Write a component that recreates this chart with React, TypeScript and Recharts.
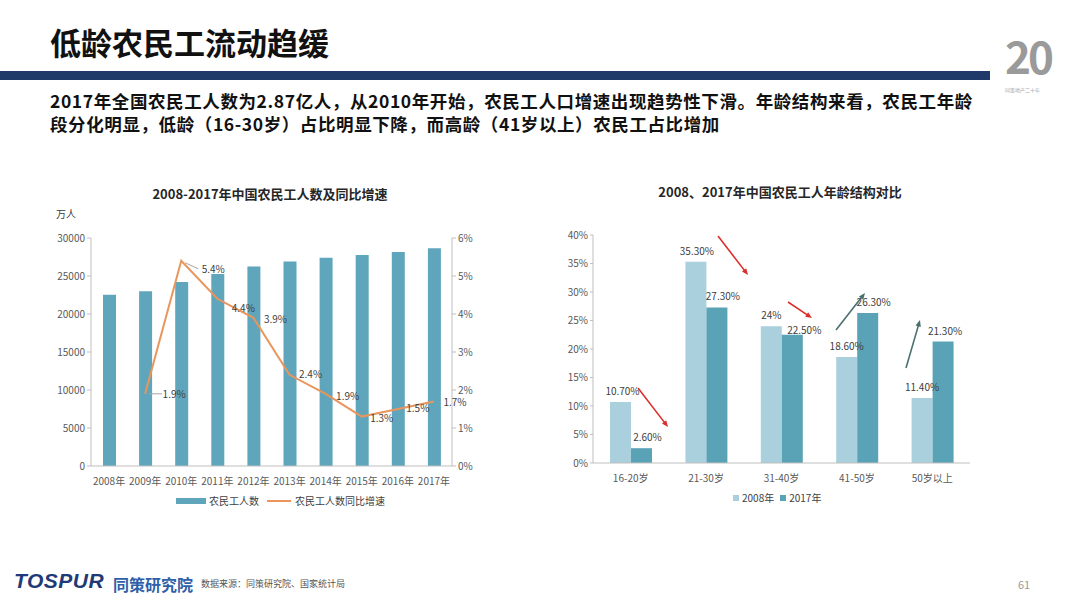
import React from "react";
import { ComposedChart, BarChart, Bar, Line, XAxis, YAxis, LabelList } from "recharts";

// left chart: 农民工人数 (万人) and 同比增速 (%)
const years = ["2008年", "2009年", "2010年", "2011年", "2012年", "2013年", "2014年", "2015年", "2016年", "2017年"];
const workers = [22542, 22978, 24223, 25278, 26261, 26894, 27395, 27747, 28171, 28652];
const growth = [null, 1.9, 5.4, 4.4, 3.9, 2.4, 1.9, 1.3, 1.5, 1.7];
const workerTicks = [0, 5000, 10000, 15000, 20000, 25000, 30000];
const growthTicks = [0, 1, 2, 3, 4, 5, 6];

// right chart: 年龄结构 (%)
const ageGroups = ["16-20岁", "21-30岁", "31-40岁", "41-50岁", "50岁以上"];
const share2008 = [10.7, 35.3, 24, 18.6, 11.4];
const share2017 = [2.6, 27.3, 22.5, 26.3, 21.3];
const label2008 = ["10.70%", "35.30%", "24%", "18.60%", "11.40%"];
const label2017 = ["2.60%", "27.30%", "22.50%", "26.30%", "21.30%"];
const shareTicks = [0, 5, 10, 15, 20, 25, 30, 35, 40];

const leftData = years.map((year, i) => ({ year, workers: workers[i], growth: growth[i] }));
const rightData = ageGroups.map((group, i) => ({
  group,
  y2008: share2008[i],
  y2017: share2017[i],
  l2008: label2008[i],
  l2017: label2017[i],
}));

const FONT = '"Noto Sans CJK SC", "Noto Sans", sans-serif';
const BAR_BLUE = "#5fa6bc";
const LINE_ORANGE = "#e9955b";
const LIGHT = "#a9d0dc";
const DARK = "#5aa3b7";
const TICK = { fill: "#595959", fontSize: 10, fontFamily: FONT };
const AXIS = "#bfbfbf";

// label nudges for the growth line, per point
const growthShift = [
  [0, 0], [29, 0], [32, 8], [26, 9], [22, 1], [21, -1], [22, 2], [20, 1], [20, -1], [21, 1],
];
// label nudges for the 2017 bars
const share17Shift = [6, 6, 12, 6, 2];

function GrowthLabel(props: any) {
  const { x, y, value, index } = props;
  if (value == null) return null;
  const [dx, dy] = growthShift[index];
  const lead = index === 1 || index === 2;
  return (
    <g>
      {lead && <line x1={x + 4} y1={y + (index === 2 ? 2 : 0)} x2={x + 17} y2={y + dy} stroke="#a6a6a6" strokeWidth={1} />}
      <text x={x + dx} y={y + dy} dy={4} textAnchor="middle" fill="#404040" fontSize={10} fontFamily={FONT}>
        {value}%
      </text>
    </g>
  );
}

function ShareLabel(shifts: number[], drop: number[]) {
  return (props: any) => {
    const { x, y, width, value, index } = props;
    return (
      <text x={x + width / 2 + shifts[index]} y={y - 7 + drop[index]} textAnchor="middle" fill="#404040" fontSize={10} fontFamily={FONT}>
        {value}
      </text>
    );
  };
}

function Arrow({ x1, y1, x2, y2, color }: { x1: number; y1: number; x2: number; y2: number; color: string }) {
  const a = Math.atan2(y2 - y1, x2 - x1);
  const h = 7;
  const p1 = [x2 - h * Math.cos(a - 0.4), y2 - h * Math.sin(a - 0.4)];
  const p2 = [x2 - h * Math.cos(a + 0.4), y2 - h * Math.sin(a + 0.4)];
  return (
    <g>
      <line x1={x1} y1={y1} x2={x2 - 3 * Math.cos(a)} y2={y2 - 3 * Math.sin(a)} stroke={color} strokeWidth={1.6} />
      <polygon points={`${x2},${y2} ${p1[0]},${p1[1]} ${p2[0]},${p2[1]}`} fill={color} />
    </g>
  );
}

export default function App() {
  return (
    <div style={{ position: "absolute", left: 0, top: 0, width: 1080, height: 608, background: "#fff", fontFamily: FONT, overflow: "hidden" }}>
      {/* header */}
      <div style={{ position: "absolute", left: 50, top: 20, fontSize: 31, fontWeight: 700, color: "#111", lineHeight: "44px" }}>
        低龄农民工流动趋缓
      </div>
      <div style={{ position: "absolute", left: 0, top: 71, width: 990, height: 9, background: "#1f3a68" }} />
      <div style={{ position: "absolute", left: 1005, top: 30, fontSize: 44, fontWeight: 700, color: "#9a9a9a", lineHeight: "50px", letterSpacing: -3 }}>
        20
      </div>
      <div style={{ position: "absolute", left: 1005, top: 86, fontSize: 5, color: "#aaa" }}>同策地产二十年</div>
      <div style={{ position: "absolute", left: 50, top: 89, width: 960, fontSize: 17.5, fontWeight: 700, color: "#111", lineHeight: "23px", letterSpacing: 0.6 }}>
        2017年全国农民工人数为2.87亿人，从2010年开始，农民工人口增速出现趋势性下滑。年龄结构来看，农民工年龄
        <br />
        段分化明显，低龄（16-30岁）占比明显下降，而高龄（41岁以上）农民工占比增加
      </div>

      {/* left chart */}
      <div style={{ position: "absolute", left: 40, top: 184, width: 460, textAlign: "center", fontSize: 13, fontWeight: 700, color: "#262626" }}>
        2008-2017年中国农民工人数及同比增速
      </div>
      <div style={{ position: "absolute", left: 56, top: 206, fontSize: 10, color: "#404040" }}>万人</div>
      <div style={{ position: "absolute", left: 40, top: 228 }}>
        <ComposedChart width={460} height={266} data={leftData} margin={{ top: 10, right: 8, bottom: 0, left: 0 }}>
          <XAxis dataKey="year" tick={TICK} tickLine={false} axisLine={{ stroke: AXIS }} interval={0} height={28} tickMargin={6} />
          <YAxis yAxisId="l" width={51} domain={[0, 30000]} ticks={workerTicks} tick={TICK} tickLine={{ stroke: AXIS }} tickSize={4} axisLine={{ stroke: AXIS }} />
          <YAxis yAxisId="r" orientation="right" width={40} domain={[0, 6]} ticks={growthTicks} tickFormatter={(v) => `${v}%`} tick={TICK} tickLine={{ stroke: AXIS }} tickSize={4} axisLine={{ stroke: AXIS }} />
          <Bar yAxisId="l" dataKey="workers" fill={BAR_BLUE} barSize={13} isAnimationActive={false} />
          <Line yAxisId="r" dataKey="growth" stroke={LINE_ORANGE} strokeWidth={2} dot={false} connectNulls={false} isAnimationActive={false}>
            <LabelList dataKey="growth" content={GrowthLabel} />
          </Line>
        </ComposedChart>
      </div>
      <div style={{ position: "absolute", left: 176, top: 493, display: "flex", alignItems: "center", fontSize: 10, color: "#404040" }}>
        <span style={{ display: "inline-block", width: 30, height: 6, background: BAR_BLUE, marginRight: 3 }} />
        农民工人数
        <span style={{ display: "inline-block", width: 24, height: 2, background: LINE_ORANGE, margin: "0 4px 0 8px" }} />
        农民工人数同比增速
      </div>

      {/* right chart */}
      <div style={{ position: "absolute", left: 560, top: 182, width: 440, textAlign: "center", fontSize: 13, fontWeight: 700, color: "#262626" }}>
        2008、2017年中国农民工人年龄结构对比
      </div>
      <div style={{ position: "absolute", left: 560, top: 225 }}>
        <BarChart width={420} height={268} data={rightData} margin={{ top: 10, right: 10, bottom: 0, left: 0 }} barGap={0}>
          <XAxis dataKey="group" tick={TICK} tickLine={false} axisLine={{ stroke: AXIS }} height={30} tickMargin={6} />
          <YAxis width={33} domain={[0, 40]} ticks={shareTicks} tickFormatter={(v) => `${v}%`} tick={TICK} tickLine={{ stroke: AXIS }} tickSize={3} axisLine={{ stroke: AXIS }} />
          <Bar dataKey="y2008" fill={LIGHT} barSize={21} isAnimationActive={false}>
            <LabelList dataKey="l2008" content={ShareLabel([2, 1, 0, 0, 0], [0, 0, 0, 0, 0])} />
          </Bar>
          <Bar dataKey="y2017" fill={DARK} barSize={21} isAnimationActive={false}>
            <LabelList dataKey="l2017" content={ShareLabel(share17Shift, [0, 0, 6, 0, 0])} />
          </Bar>
        </BarChart>
      </div>
      <svg style={{ position: "absolute", left: 0, top: 0 }} width={1080} height={608}>
        <Arrow x1={638} y1={388} x2={668} y2={427} color="#d9302c" />
        <Arrow x1={718} y1={236} x2={748} y2={275} color="#d9302c" />
        <Arrow x1={788} y1={302} x2={812} y2={318} color="#d9302c" />
        <Arrow x1={836} y1={330} x2={865} y2={293} color="#4a6f6f" />
        <Arrow x1={906} y1={368} x2={920} y2={320} color="#4a6f6f" />
      </svg>
      <div style={{ position: "absolute", left: 733, top: 490, display: "flex", alignItems: "center", fontSize: 10, color: "#404040" }}>
        <span style={{ display: "inline-block", width: 6, height: 6, background: LIGHT, marginRight: 3 }} />
        2008年
        <span style={{ display: "inline-block", width: 6, height: 6, background: DARK, margin: "0 3px 0 6px" }} />
        2017年
      </div>

      {/* footer */}
      <div style={{ position: "absolute", left: 14, top: 569, fontSize: 21, fontWeight: 700, fontStyle: "italic", color: "#1f3a78", fontFamily: '"Liberation Sans", Arial, sans-serif', letterSpacing: 0.5 }}>
        TOSPUR
      </div>
      <div style={{ position: "absolute", left: 113, top: 572, fontSize: 16, fontWeight: 700, color: "#2f5fa8" }}>同策研究院</div>
      <div style={{ position: "absolute", left: 201, top: 577, fontSize: 9, color: "#555" }}>数据来源：同策研究院、国家统计局</div>
      <div style={{ position: "absolute", left: 1018, top: 576, fontSize: 11, color: "#999" }}>61</div>
    </div>
  );
}
